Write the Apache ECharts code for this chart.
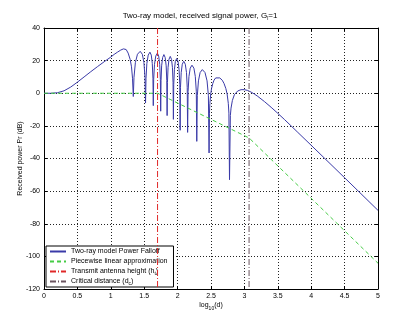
<!DOCTYPE html>
<html>
<head>
<meta charset="utf-8">
<script src="https://cdn.jsdelivr.net/npm/echarts@6/dist/echarts.min.js"></script>
<style>
  html, body { margin: 0; padding: 0; background: #fff; }
  #chart { width: 400px; height: 323px; }
</style>
</head>
<body>
<div id="chart"></div>
<script>
// log10 of distance and received power (dB) along the two-ray curve
const logDist = [
  0, 0.1, 0.2, 0.3, 0.4, 0.5, 0.6, 0.7, 0.8, 0.9, 1.0, 1.05, 1.1, 1.15, 1.19, 1.23, 1.26, 1.29, 1.31, 1.325, 1.337,
  1.347, 1.368, 1.399, 1.44, 1.472, 1.496, 1.512, 1.52,
  1.527, 1.54, 1.56, 1.586, 1.606, 1.621, 1.631, 1.636,
  1.642, 1.654, 1.673, 1.697, 1.717, 1.732, 1.742, 1.747,
  1.752, 1.761, 1.776, 1.795, 1.814, 1.829, 1.838, 1.843,
  1.848, 1.857, 1.871, 1.89, 1.909, 1.923, 1.932, 1.937,
  1.942, 1.952, 1.966, 1.986, 2.007, 2.022, 2.033, 2.038,
  2.043, 2.054, 2.07, 2.092, 2.115, 2.133, 2.144, 2.15,
  2.157, 2.17, 2.189, 2.215, 2.244, 2.265, 2.28, 2.287,
  2.295, 2.312, 2.337, 2.37, 2.41, 2.441, 2.461, 2.471,
  2.477, 2.483, 2.496, 2.508, 2.527, 2.545, 2.57, 2.595, 2.631, 2.668, 2.695, 2.722, 2.741, 2.759, 2.768, 2.777,
  2.79, 2.8, 2.82, 2.85, 2.9, 2.95, 3.0, 3.05, 3.1, 3.15, 3.2, 3.3, 3.4, 3.5, 3.6, 3.8, 4.0, 4.5, 5.0
];
const powerDb = [
  0, 0, 0.3, 1.5, 3.8, 6.8, 10, 13.2, 16.3, 19.3, 22.2, 23.8, 25.2, 26.5, 27.2, 26.8, 24.6, 20.7, 16.2, 9.2, -2,
  9.7, 18.8, 23.9, 25.7, 23.9, 18.8, 9.7, -6,
  9.2, 18.3, 23.4, 25.2, 23.4, 18.3, 9.2, -7.6,
  8.6, 17.7, 22.8, 24.6, 22.8, 17.7, 8.6, -11,
  7.7, 16.8, 21.9, 23.7, 21.9, 16.8, 7.7, -13.7,
  6.6, 15.7, 20.8, 22.6, 20.8, 15.7, 6.6, -16,
  5.3, 14.4, 19.5, 21.3, 19.5, 14.4, 5.3, -22.7,
  3.6, 12.7, 17.8, 19.6, 17.8, 12.7, 3.6, -24,
  1.2, 10.3, 15.4, 17.2, 15.4, 10.3, 1.2, -29.5,
  -1.5, 7.6, 12.7, 14.5, 12.7, 7.6, -1.5, -36.6,
  -12.2, -6.2, -0.4, 2.9, 6.0, 8.0, 9.4, 9.8, 9.4, 8.0, 6.0, 2.9, -0.4, -6.2, -12.2, -53,
  -13.6, -9.1, -4.4, -0.9, 1.4, 2.2, 2.2, 1.7, 0.7, -0.5, -1.9, -5.1, -8.6, -12.3, -16.1, -24, -31.9, -51.8, -71.8
];

// piecewise linear approximation breakpoints
const approxLogDist = [0, 1.7, 3.07, 5];
const approxDb = [0, 0, -27.4, -104.2];

// reference distances (log10)
const txHeightLog = 1.7;
const critDistLog = 3.07;

// axis ranges
const xMin = 0, xMax = 5, xStep = 0.5;
const yMin = -120, yMax = 40, yStep = 20;

const FONT = '"Liberation Sans", Arial, Helvetica, sans-serif';
const sub = { fontSize: 5, lineHeight: 5, verticalAlign: 'bottom', fontFamily: FONT, color: '#000' };

const names = {
  tworay: 'Two-ray model Power Falloff',
  approx: 'Piecewise linear approximation',
  tx: 'Transmit antenna height (ht)',
  dc: 'Critical distance (dc)'
};
const legendText = {};
legendText[names.tworay] = 'Two-ray model Power Falloff';
legendText[names.approx] = 'Piecewise linear approximation';
legendText[names.tx] = 'Transmit antenna height (h{sub|t})';
legendText[names.dc] = 'Critical distance (d{sub|c})';

const zip = (a, b) => a.map((v, i) => [v, b[i]]);

const gridLine = { show: true, lineStyle: { type: [1, 2], color: '#222', width: 1 } };
const axisLine = { show: true, onZero: false, lineStyle: { color: '#000', width: 1 } };
const tick = { show: true, inside: true, length: 3, lineStyle: { color: '#000' } };
const label = { fontSize: 7, color: '#000', fontFamily: FONT, margin: 4 };

const chart = echarts.init(document.getElementById('chart'), null, { renderer: 'canvas' });
chart.setOption({
  backgroundColor: '#fff',
  animation: false,
  title: {
    text: 'Two-ray model, received signal power, G{sub|l}=1',
    left: 'center',
    top: 10,
    padding: [0, 0, 0, 16],
    textStyle: {
      fontSize: 8, fontWeight: 'normal', color: '#000', fontFamily: FONT, lineHeight: 11,
      rich: { sub: sub }
    }
  },
  grid: { left: 44, right: 22, top: 28, bottom: 34, containLabel: false },
  legend: {
    orient: 'vertical',
    left: 46,
    top: 246,
    selectedMode: false,
    backgroundColor: '#fff',
    borderColor: '#000',
    borderWidth: 1,
    borderRadius: 0,
    padding: [1, 6, 1, 3],
    itemGap: 1,
    itemWidth: 16,
    itemHeight: 8,
    itemStyle: { opacity: 0 },
    textStyle: {
      fontSize: 7, color: '#000', fontFamily: FONT, lineHeight: 9,
      rich: { sub: sub }
    },
    formatter: n => legendText[n],
    data: [names.tworay, names.approx, names.tx, names.dc]
  },
  xAxis: [
    {
      type: 'value', min: xMin, max: xMax, interval: xStep, position: 'bottom',
      name: 'log{sub|10}(d)', nameLocation: 'middle', nameGap: 11, nameMoveOverlap: false,
      nameTextStyle: { fontSize: 7, color: '#000', fontFamily: FONT, lineHeight: 11, rich: { sub: sub } },
      axisLine: axisLine, axisTick: tick, axisLabel: label, splitLine: gridLine
    },
    {
      type: 'value', min: xMin, max: xMax, interval: xStep, position: 'top',
      axisLine: axisLine, axisTick: tick, axisLabel: { show: false }, splitLine: { show: false }
    }
  ],
  yAxis: [
    {
      type: 'value', min: yMin, max: yMax, interval: yStep, position: 'left',
      name: 'Received power Pr (dB)', nameLocation: 'middle', nameGap: 20, nameRotate: 90,
      nameMoveOverlap: false,
      nameTextStyle: { fontSize: 7, color: '#000', fontFamily: FONT },
      axisLine: axisLine, axisTick: tick, axisLabel: label, splitLine: gridLine
    },
    {
      type: 'value', min: yMin, max: yMax, interval: yStep, position: 'right',
      axisLine: axisLine, axisTick: tick, axisLabel: { show: false }, splitLine: { show: false }
    }
  ],
  series: [
    {
      name: names.tworay, type: 'line', data: zip(logDist, powerDb),
      symbol: 'none', showSymbol: false, z: 3,
      lineStyle: { color: '#3a3aa8', width: 1 }, itemStyle: { color: '#3a3aa8' }
    },
    {
      name: names.approx, type: 'line', data: zip(approxLogDist, approxDb),
      symbol: 'none', showSymbol: false, z: 4,
      lineStyle: { color: '#44cc44', width: 1, type: [4, 3] }, itemStyle: { color: '#44cc44' }
    },
    {
      name: names.tx, type: 'line', data: [[txHeightLog, yMax], [txHeightLog, yMin]],
      symbol: 'none', showSymbol: false, z: 4,
      lineStyle: { color: '#e02828', width: 1, type: [6, 2, 1, 2] }, itemStyle: { color: '#e02828' }
    },
    {
      name: names.dc, type: 'line', data: [[critDistLog, yMax], [critDistLog, yMin]],
      symbol: 'none', showSymbol: false, z: 4,
      lineStyle: { color: '#6b5560', width: 1, type: [6, 2, 1, 2] }, itemStyle: { color: '#6b5560' }
    }
  ]
});
</script>
</body>
</html>
